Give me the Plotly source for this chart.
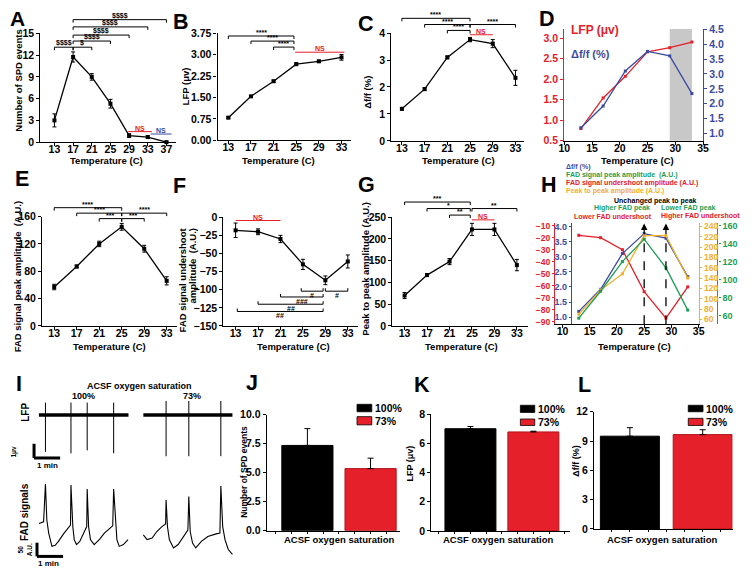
import plotly.graph_objects as go

W, H = 754, 582
FONT = "Arial, 'Liberation Sans', sans-serif"
RED = '#E5202A'
BLUE = '#3B4BA0'
GREEN = '#1E9E55'
ORANGE = '#F2B02A'
GRAY = '#C8C8C8'

# ---------------- data ----------------
temps_a = [13, 17, 21, 25, 29, 33, 37]
temps = [13, 17, 21, 25, 29, 33]

spd_events = [3.0, 11.75, 9.0, 5.3, 0.9, 0.7, 0.0]
spd_err = [0.9, 0.7, 0.45, 0.6, 0.25, 0.2, 0.05]
lfp_amp = [0.79, 1.54, 2.07, 2.67, 2.77, 2.91]
lfp_err = [0.03, 0.03, 0.04, 0.05, 0.04, 0.1]
dff = [1.19, 1.92, 3.1, 3.76, 3.61, 2.34]
dff_err = [0.05, 0.05, 0.05, 0.08, 0.15, 0.28]
fad_peak = [57, 87, 120, 145, 113, 66]
fad_peak_err = [4, 2, 4, 5, 5, 6]
fad_under = [-18, -20, -30, -65, -87, -61]
fad_under_err = [10, 4, 5, 7, 6, 9]
p2p = [70, 117, 148, 222, 222, 140]
p2p_err = [7, 3, 7, 14, 14, 13]

shade_temps = [29, 33]
arrow_temps = [25, 29]

# significance brackets: (from, to, level, label)
brk_a = [(13, 17, 13.1, '$$$$'), (17, 21, 13.1, '$'), (17, 25, 13.95, '$$$$'),
         (17, 29, 14.77, '$$$$'), (17, 33, 15.9, '$$$$'), (17, 37, 16.9, '$$$$')]
ns_a_red = (28.8, 33.9, 1.45)
ns_a_blue = (33.6, 38.1, 1.12)
brk_b = [(13, 24.6, 3.66, '****'), (17, 24.6, 3.48, '****'), (21, 24.6, 3.27, '****')]
ns_b = (24.8, 33.5, 3.09)
brk_c = [(13, 25, 4.55, '****'), (17, 25, 4.32, '****'), (25, 33, 4.32, '****'), (21, 25, 4.1, '****')]
ns_c = (25, 29, 3.94)
brk_e = [(13, 25, 173, '****'), (17, 25, 165, '****'), (25, 33, 165, '****'),
         (21, 25, 157, '***'), (25, 29, 157, '***')]
ns_f = (13, 21, -4.5)
brk_f = [(24.7, 28.6, -102, '#'), (29, 33, -102, '#'), (21, 28.6, -110, '###'),
         (17, 28.6, -120, '##'), (13.3, 28.6, -130, '##')]
brk_g = [(13, 24.7, 285, '***'), (17, 24.7, 270, '*'), (25, 33, 270, '**'), (21, 24.7, 255, '**')]
ns_g = (25, 29, 244)

# panel I traces (time in s, FAD in A.U., LFP in uV)
fad_100_t = [71, 81, 85, 88, 92, 99, 106, 113, 124, 134, 139, 140, 144, 147, 152, 159, 170, 174, 175, 178,
             182, 190, 202, 212, 228, 230, 232, 236, 239, 244, 253, 263]
fad_100_v = [119, 125, 270, 132, 82, 31, 35, 50, 79, 104, 113, 267, 107, 57, 38, 50, 88, 107, 251, 107,
             57, 38, 59, 82, 107, 110, 251, 107, 57, 31, 38, 57]
fad_73_t = [296, 304, 315, 325, 336, 344, 345, 348, 352, 361, 371, 385, 392, 394, 397, 402, 409, 421, 435,
            453, 461, 463, 467, 472, 479, 488]
fad_73_v = [75, 57, 63, 88, 107, 117, 209, 107, 57, 25, 38, 75, 94, 222, 88, 44, 25, 50, 69, 79, 82, 263,
            107, 57, 19, 0]
lfp_segments = [(71, 264), (296, 488)]
lfp_spike_t = [85, 140, 175, 232, 345, 394, 463]
lfp_spike_top = [0.85, 0.85, 0.85, 0.85, 0.96, 0.96, 0.96]
lfp_spike_bottom = [-2.5, -2.6, -2.4, -2.6, -2.8, -2.8, -2.8]

# bar panels
oxy_groups = ['100%', '73%']
spd_oxy = [7.35, 5.35]
spd_oxy_err = [1.45, 0.9]
lfp_oxy = [7.0, 6.78]
lfp_oxy_err = [0.15, 0.05]
dff_oxy = [9.5, 9.66]
dff_oxy_err = [0.87, 0.5]

# ---------------- figure ----------------
fig = go.Figure()
Lay = dict(width=W, height=H, margin=dict(l=0, r=0, t=0, b=0), paper_bgcolor='white',
           plot_bgcolor='rgba(0,0,0,0)', showlegend=False, font=dict(family=FONT, color='black'))
annotations = []
shapes = []


def xd(a, b):
    return [a / W, b / W]


def yd(top, bottom):
    return [1 - bottom / H, 1 - top / H]


def ax_style(color='black', fs=10.5, **kw):
    base = dict(showline=True, linecolor=color, linewidth=1.3, ticks='outside', ticklen=3, tickwidth=1.2,
                tickcolor=color, showgrid=False, zeroline=False, fixedrange=True,
                tickfont=dict(family=FONT, size=fs, color=color, weight='bold'))
    base.update(kw)
    return base


def xstyle(**kw):
    kw.setdefault('ticklabelstandoff', -6)
    return ax_style(**kw)


def sfx(n):
    return '' if n == 1 else str(n)


yranges = {}


def add_xy(n, xpx, ypx, xr, yr, xkw=None, ykw=None):
    s = sfx(n)
    Lay['xaxis' + s] = xstyle(domain=xd(*xpx), range=xr, anchor='y' + s, **(xkw or {}))
    Lay['yaxis' + s] = ax_style(domain=yd(*ypx), range=yr, anchor='x' + s, **(ykw or {}))
    yranges[n] = yr


def txt(x, y, text, size=9.5, color='black', angle=0, xanchor='center', bold=True):
    annotations.append(dict(xref='paper', yref='paper', x=x / W, y=1 - y / H, text=text, showarrow=False,
                            textangle=angle, xanchor=xanchor, yanchor='middle',
                            font=dict(family=FONT, size=size, color=color,
                                      weight='bold' if bold else 'normal')))


def bracket(n, x0, x1, yv, label, color='black', tick=-1, above=True, fs=7):
    s = sfx(n)
    yr = yranges[n]
    yf = (yv - yr[0]) / (yr[1] - yr[0])
    xref, yref = 'x' + s, 'y' + s + ' domain'
    shapes.append(dict(type='line', xref=xref, yref=yref, x0=x0, x1=x1, y0=yf, y1=yf,
                       line=dict(color=color, width=1)))
    if tick:
        for xx in (x0, x1):
            shapes.append(dict(type='line', xref=xref, yref=yref, ysizemode='pixel', yanchor=yf,
                               x0=xx, x1=xx, y0=0, y1=3 * tick, line=dict(color=color, width=1)))
    annotations.append(dict(xref=xref, yref=yref, x=(x0 + x1) / 2, y=yf, text=label, showarrow=False,
                            yanchor='bottom' if above else 'top', yshift=-2 if above else 1,
                            font=dict(family=FONT, size=fs, color=color, weight='bold')))


def line_trace(n, x, y, err, yaxis=None, color='black', msize=4):
    s = sfx(n)
    fig.add_trace(go.Scatter(
        x=x, y=y, mode='lines+markers', cliponaxis=False,
        line=dict(color=color, width=1.3), marker=dict(symbol='square', size=msize, color=color),
        error_y=None if err is None else dict(type='data', array=err, color=color, thickness=1, width=2),
        xaxis='x' + s, yaxis=yaxis or ('y' + s)))


tx = dict(tick0=13, dtick=4)

# A
add_xy(1, (35, 173), (28, 139), [10, 39.1], [0, 15], tx, dict(tick0=0, dtick=3))
line_trace(1, temps_a, spd_events, spd_err)
for b in brk_a:
    bracket(1, *b)
bracket(1, *ns_a_red, 'NS', color=RED, tick=0)
bracket(1, *ns_a_blue, 'NS', color=BLUE, tick=0)

# B
add_xy(2, (215, 350.7), (28, 137), [11.1, 34.7], [0, 3.75], tx, dict(tick0=0, dtick=0.75, tickformat='.2f'))
line_trace(2, temps, lfp_amp, lfp_err)
for b in brk_b:
    bracket(2, *b)
bracket(2, *ns_b, 'NS', color=RED, tick=0)

# C
add_xy(3, (391.7, 526.7), (27.7, 137.7), [11.16, 34.56], [0, 4], tx, dict(tick0=0, dtick=1))
line_trace(3, temps, dff, dff_err)
for b in brk_c:
    bracket(3, *b)
bracket(3, *ns_c, 'NS', color=RED, tick=0)

# D
Lay['xaxis4'] = xstyle(domain=xd(567.3, 708.3), range=[10, 35], anchor='y4', tick0=10, dtick=5)
Lay['yaxis4'] = ax_style(color=RED, domain=yd(23.5, 137.7), range=[0.49, 3.228], anchor='x4',
                         tick0=0.5, dtick=0.5, tickformat='.1f')
Lay['yaxis13'] = ax_style(color=BLUE, overlaying='y4', side='right', anchor='x4', range=[0.746, 4.516],
                          tick0=1.0, dtick=0.5, tickformat='.1f')
shapes.append(dict(type='rect', xref='x4', yref='y4 domain', x0=shade_temps[0], x1=shade_temps[1],
                   y0=0, y1=1, fillcolor=GRAY, line=dict(width=0), layer='below'))
line_trace(4, temps, lfp_amp, None, color=RED, msize=3)
line_trace(4, temps, dff, None, yaxis='y13', color=BLUE, msize=3)

# E
add_xy(5, (36.7, 173.3), (215, 326.7), [10.85, 34.75], [0, 160], tx, dict(tick0=0, dtick=40))
line_trace(5, temps, fad_peak, fad_peak_err)
for b in brk_e:
    bracket(5, *b)

# F
add_xy(6, (221, 357.3), (215.7, 326.7), [10.84, 34.75], [-150, 0], tx, dict(tick0=0, dtick=25))
line_trace(6, temps, fad_under, fad_under_err)
bracket(6, *ns_f, 'NS', color=RED, tick=0)
for b in brk_f:
    bracket(6, *b, tick=1, above=False)

# G
add_xy(7, (392.7, 530), (215.7, 326.7), [10.84, 34.9], [0, 250], tx, dict(tick0=0, dtick=50))
line_trace(7, temps, p2p, p2p_err)
for b in brk_g:
    bracket(7, *b)
bracket(7, *ns_g, 'NS', color=RED, tick=0)

# H
hdom = yd(222, 325)
Lay['xaxis8'] = xstyle(domain=xd(558, 704.4), range=[8.65, 35.1], anchor='y8', tick0=10, dtick=5)
Lay['yaxis8'] = ax_style(color=RED, fs=8.5, domain=hdom, range=[-92.2, -8.1], anchor='x8',
                         tick0=-90, dtick=10, ticklen=2)
Lay['yaxis14'] = ax_style(color=BLUE, fs=9, overlaying='y8', anchor='free', position=574 / W, side='left',
                          range=[0.764, 4.097], tick0=1.0, dtick=0.5, tickformat='.1f', ticklen=2)
Lay['yaxis15'] = ax_style(color=ORANGE, fs=8.5, overlaying='y8', anchor='x8', side='right',
                          range=[50.5, 245.7], tick0=60, dtick=20, ticklen=2)
Lay['yaxis16'] = ax_style(color=GREEN, fs=9, overlaying='y8', anchor='free', position=723 / W, side='right',
                          range=[50.2, 162.5], tick0=60, dtick=20, ticklen=2)
line_trace(8, temps, dff, None, yaxis='y14', color=BLUE, msize=3)
line_trace(8, temps, fad_peak, None, yaxis='y16', color=GREEN, msize=3)
line_trace(8, temps, fad_under, None, yaxis='y8', color=RED, msize=3)
line_trace(8, temps, p2p, None, yaxis='y15', color=ORANGE, msize=3)
for t in arrow_temps:
    shapes.append(dict(type='line', xref='x8', yref='y8 domain', x0=t, x1=t, y0=0, y1=0.96,
                       line=dict(color='black', width=1.3, dash='dash')))
    annotations.append(dict(xref='x8', yref='y8 domain', x=t, y=1.0, ax=0, ay=8, showarrow=True,
                            arrowhead=2, arrowsize=1, arrowwidth=1.3, arrowcolor='black', text=''))

# I (traces)
Lay['xaxis9'] = dict(domain=xd(0, 240), range=[0, 509], visible=False, fixedrange=True, anchor='y9')
Lay['yaxis9'] = dict(domain=yd(398, 465), range=[-3.153, 1.313], visible=False, fixedrange=True, anchor='x9')
Lay['yaxis17'] = dict(domain=yd(485, 565), range=[-18.8, 282], visible=False, fixedrange=True, anchor='x9')
for t, v in ((fad_100_t, fad_100_v), (fad_73_t, fad_73_v)):
    fig.add_trace(go.Scatter(x=t, y=v, mode='lines', line=dict(color='black', width=1.1),
                             xaxis='x9', yaxis='y17', cliponaxis=False))
for a, b in lfp_segments:
    fig.add_trace(go.Scatter(x=[a, b], y=[0, 0], mode='lines', line=dict(color='black', width=3.5),
                             xaxis='x9', yaxis='y9', cliponaxis=False))
sx, sy = [], []
for t, top, bot in zip(lfp_spike_t, lfp_spike_top, lfp_spike_bottom):
    sx += [t, t, None]
    sy += [top, bot, None]
fig.add_trace(go.Scatter(x=sx, y=sy, mode='lines', line=dict(color='black', width=1),
                         xaxis='x9', yaxis='y9', cliponaxis=False))


# bars J K L
def bar_panel(n, xpx, ypx, xr, yr, vals, errs, ykw):
    add_xy(n, xpx, ypx, xr, yr, dict(showticklabels=False, tick0=0, dtick=0.25, ticklen=2), ykw)
    s = sfx(n)
    fig.add_trace(go.Bar(x=[1, 2], y=vals, width=0.81,
                         marker=dict(color=['black', RED], line=dict(color=['black', '#B0141B'], width=1)),
                         error_y=dict(type='data', symmetric=False, array=errs, arrayminus=[0, 0],
                                      color='black', thickness=1, width=3),
                         xaxis='x' + s, yaxis='y' + s))


bar_panel(10, (265, 400), (417.3, 535.7), [0.357, 2.46], [0, 10], spd_oxy, spd_oxy_err,
          dict(tick0=0, dtick=2.5, tickformat='.1f'))
bar_panel(11, (432.3, 573), (416.7, 536), [0.38, 2.58], [0, 8], lfp_oxy, lfp_oxy_err, dict(tick0=0, dtick=2))
bar_panel(12, (597.7, 738.3), (414.3, 534), [0.51, 2.41], [0, 12], dff_oxy, dff_oxy_err, dict(tick0=0, dtick=3))


def legend_boxes(x0, x1, ys, xt):
    for (y0, y1), col, lab in zip(ys, ['black', RED], oxy_groups):
        shapes.append(dict(type='rect', xref='paper', yref='paper', x0=x0 / W, x1=x1 / W,
                           y0=1 - y1 / H, y1=1 - y0 / H, fillcolor=col, line=dict(color='black', width=0.8)))
        txt(xt, (y0 + y1) / 2, lab, size=10.5, xanchor='left')


legend_boxes(356.7, 371.7, [(406.7, 414.3), (419.3, 427.7)], 372.5)
legend_boxes(522.7, 537.3, [(407.7, 415), (421.7, 428.3)], 538.3)
legend_boxes(693.3, 708.3, [(407.7, 414.3), (421, 428.3)], 709.5)

# ---------------- text ----------------
for lab, x, y, sz in [('A', 12, 12.5, 21), ('B', 177.5, 16, 21.5), ('C', 366, 18, 21.5), ('D', 549.5, 13.5, 21.5),
                      ('E', 16.5, 177, 21.5), ('F', 176, 184, 21.5), ('G', 366, 182.5, 21.5),
                      ('H', 552, 182.5, 21.5), ('I', 13, 386, 21.5), ('J', 250, 385, 21.5),
                      ('K', 423, 387, 21.5), ('L', 588, 387, 21.5)]:
    txt(x, y, lab, size=sz)

TT = 'Temperature (C)'
txt(12.5, 76, 'Number of SPD events', angle=-90)
txt(102, 157.5, TT)
txt(182, 82, 'LFP (μv)', angle=-90)
txt(276.7, 157.5, TT)
txt(367.5, 88, 'Δf/f (%)', angle=-90)
txt(460, 158, TT)
txt(641.7, 157.5, TT)
txt(571.7, 25, 'LFP (μv)', size=12, color=RED, xanchor='left')
txt(571.7, 49.3, 'Δf/f (%)', size=11, color=BLUE, xanchor='left')

txt(11.5, 275.7, 'FAD signal peak amplitude  (A.U.)', angle=-90)
txt(105, 347.5, TT)
txt(179, 280, 'FAD signal undershoot', angle=-90)
txt(190, 265, 'amplitude  (A.U.)', angle=-90)
txt(291.7, 347.5, TT)
txt(365, 268, 'Peak to peak amplitude (A.U.)', angle=-90)
txt(463.3, 348, TT)
txt(638.3, 347.5, TT)

txt(566.7, 164.3, 'Δf/f (%)', size=7, color=BLUE, xanchor='left')
txt(566.7, 172.7, 'FAD signal peak amplitude  (A.U.)', size=7, color=GREEN, xanchor='left')
txt(566.7, 181, 'FAD signal undershoot amplitude (A.U.)', size=7, color=RED, xanchor='left')
txt(566.7, 188.7, 'Peak to peak amplitude (A.U.)', size=7, color=ORANGE, xanchor='left')
txt(660, 199, 'Unchanged peak to peak', size=7)
txt(625.8, 206.5, 'Higher FAD peak', size=7, color=GREEN)
txt(694, 206.5, 'Lower FAD peak', size=7, color=GREEN)
txt(616.7, 214.5, 'Lower FAD undershoot', size=7, color=RED)
txt(705.8, 214.5, 'Higher FAD undershoot', size=7, color=RED)

txt(135.7, 387.7, 'ACSF oxygen saturation', size=9)
txt(79, 397.7, '100%', size=9)
txt(189, 397.7, '73%', size=9)
txt(19, 414.6, 'LFP', size=10, angle=-90)
txt(8, 455, '1μv', size=6.5, angle=-90)
txt(42.5, 469, '1 min', size=8)
txt(19, 517, 'FAD signals', size=10, angle=-90)
txt(19, 555, '50<br>A.U.', size=6.5, angle=-90)
txt(43, 569, '1 min', size=8)
for (x0, y0, x1, y1) in [(28.5, 447, 28.5, 461.5), (28.5, 461.5, 55, 461.5),
                         (31.5, 548, 31.5, 562), (31.5, 562, 58, 562)]:
    shapes.append(dict(type='line', xref='paper', yref='paper', x0=x0 / W, x1=x1 / W,
                       y0=1 - y0 / H, y1=1 - y1 / H, line=dict(color='black', width=3)))

txt(242.5, 476, 'Number of SPD events', size=8.5, angle=-90)
txt(339, 544.3, 'ACSF oxygen saturation')
txt(411, 466.7, 'LFP (μv)', size=9, angle=-90)
txt(500.7, 544.3, 'ACSF oxygen saturation')
txt(579, 464.5, 'Δf/f (%)', size=9, angle=-90)
txt(667.3, 544.3, 'ACSF oxygen saturation')

Lay['annotations'] = annotations
Lay['shapes'] = shapes
fig.update_layout(**Lay)
fig.write_html('out.html', config={'displayModeBar': False},
               post_script="document.body.style.margin='0';document.body.style.overflow='hidden';")
